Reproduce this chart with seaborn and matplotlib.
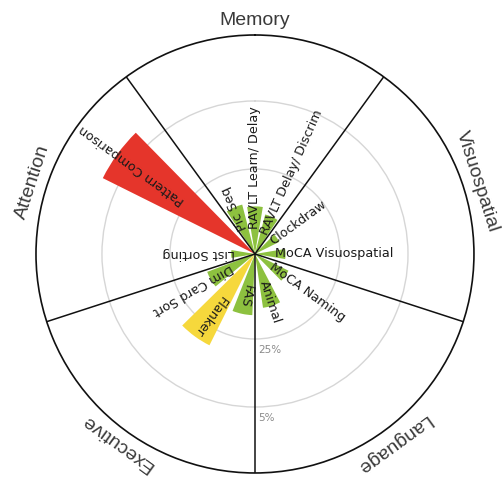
import numpy as np
import pandas as pd
import matplotlib.pyplot as plt
import seaborn as sns

# domains (clockwise from top) and the tests in each one
domains = ['Memory', 'Visuospatial', 'Language', 'Executive', 'Attention']
tests = ['Pic Seq', 'RAVLT Learn/ Delay', 'RAVLT Delay/ Discrim',
         'Clockdraw', 'MoCA Visuospatial',
         'MoCA Naming', 'Animal',
         'FAS', 'Flanker', 'Dim Card Sort',
         'List Sorting', 'Pattern Comparison']
test_domain = ['Memory', 'Memory', 'Memory',
               'Visuospatial', 'Visuospatial',
               'Language', 'Language',
               'Executive', 'Executive', 'Executive',
               'Attention', 'Attention']
percentile = [35, 36, 38, 42, 41, 39, 34, 32, 20, 35, 43, 0]
ring_pcts = [25, 5]
ring_labels = ['25%', '5%']

sns.set_theme(style='white')
plt.rcParams['font.family'] = ['DejaVu Sans']

df = pd.DataFrame({'test': tests, 'domain': test_domain, 'pct': percentile})
# radius grows as the percentile drops below 50
df['deficit'] = 50 - df['pct']

# angle of every bar: each domain gets 72 deg, its tests share it evenly
seg = 360 / len(domains)
angles = []
for d_i, dom in enumerate(domains):
    sub = df[df['domain'] == dom]
    slot = seg / len(sub)
    start = d_i * seg - seg / 2
    for k in range(len(sub)):
        angles.append(start + slot * (k + 0.5))
df['angle'] = angles

def pick_color(p):
    if p < 5:
        return '#E5352B'
    if p < 25:
        return '#F6D83C'
    return '#8DC13F'

df['color'] = df['pct'].apply(pick_color)

rmax = 64.4
fig = plt.figure(figsize=(5.04, 4.80), dpi=100)
ax = fig.add_axes([0.0714, 0.0146, 0.869, 0.9125], projection='polar')
ax.set_theta_zero_location('N')
ax.set_theta_direction(-1)
ax.set_ylim(0, rmax)

ax.bar(np.deg2rad(df['angle']), df['deficit'], width=np.deg2rad(19),
       color=df['color'], edgecolor='none', zorder=2)

# percentile rings
ax.set_xticks([])
ax.set_yticks([50 - p for p in ring_pcts])
ax.set_yticklabels([])
ax.yaxis.grid(True, color='#d6d6d6', lw=1.0)
ax.spines['polar'].set_color('#111111')
ax.spines['polar'].set_linewidth(1.2)

for p, lab in zip(ring_pcts, ring_labels):
    ax.annotate(lab, xy=(np.pi, 50 - p), xytext=(2, -4),
                textcoords='offset points', ha='left', va='top',
                fontsize=7.5, color='#8a8a8a', zorder=4)

# domain dividers
for d_i in range(len(domains)):
    b = np.deg2rad(d_i * seg + seg / 2)
    ax.plot([b, b], [0, rmax], color='#111111', lw=1.1, zorder=3)

# domain names just outside the circle
for d_i, dom in enumerate(domains):
    a = d_i * seg
    ax.text(np.deg2rad(a), 68.8, dom, rotation=-a, rotation_mode='anchor',
            ha='center', va='center', fontsize=14, color='#3a3a3a',
            family='Liberation Sans', clip_on=False)

# test names along the bars, reading outward
for _, row in df.iterrows():
    r0 = max(5.8, 0.52 * row['deficit'])
    ax.text(np.deg2rad(row['angle']), r0, row['test'],
            rotation=90 - row['angle'], rotation_mode='anchor',
            ha='left', va='center', fontsize=9.2, color='#1a1a1a', zorder=5)

fig.savefig('out.png', dpi=100)
